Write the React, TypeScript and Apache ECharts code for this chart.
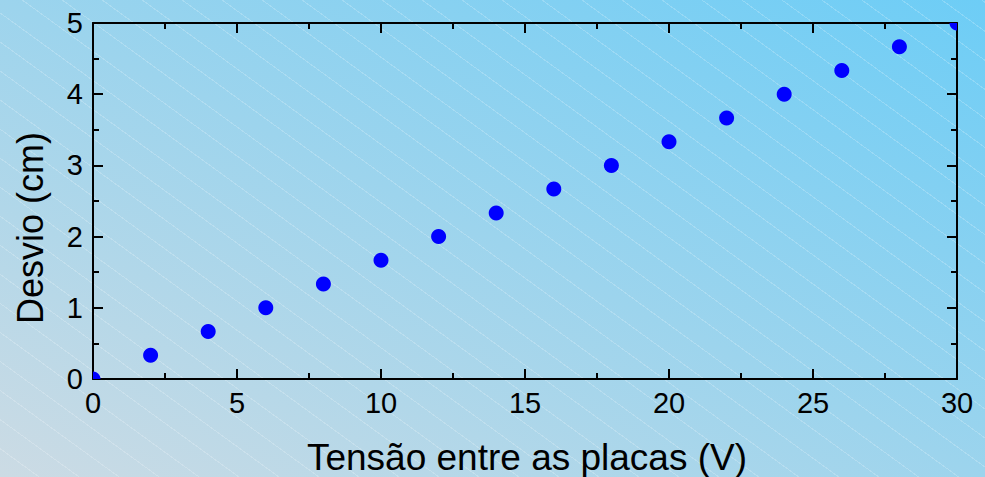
import React, { useEffect, useRef } from "react";
import * as echarts from "echarts";

const voltage = [0, 2, 4, 6, 8, 10, 12, 14, 16, 18, 20, 22, 24, 26, 28, 30];
const deflection = [0, 0.333, 0.667, 1.0, 1.333, 1.667, 2.0, 2.333, 2.667, 3.0, 3.333, 3.667, 4.0, 4.333, 4.667, 5.0];
const xTitle = "Tensão entre as placas (V)";
const yTitle = "Desvio (cm)";

const FONT = "'Liberation Sans', Arial, sans-serif";

export default function App() {
  const ref = useRef<HTMLDivElement>(null);
  useEffect(() => {
    if (!ref.current) return;
    const chart = echarts.init(ref.current, undefined, { renderer: "svg" });
    const axisCommon = {
      axisLine: { show: true, onZero: false, lineStyle: { color: "#000", width: 2 } },
      axisTick: { show: true, inside: true, length: 10, lineStyle: { color: "#000", width: 2 } },
      minorTick: { show: true, splitNumber: 2, length: 6, lineStyle: { color: "#000", width: 2 } },
      splitLine: { show: false },
    };
    chart.setOption({
      animation: false,
      backgroundColor: "transparent",
      grid: { left: 93, right: 28, top: 23, bottom: 98, containLabel: false },
      xAxis: [
        {
          type: "value", position: "bottom", min: 0, max: 30, interval: 5,
          ...axisCommon,
          axisLabel: { color: "#000", fontSize: 29, fontFamily: FONT, margin: 9 },
        },
        {
          type: "value", position: "top", min: 0, max: 30, interval: 5,
          ...axisCommon,
          axisLabel: { show: false },
        },
      ],
      yAxis: [
        {
          type: "value", position: "left", min: 0, max: 5, interval: 1,
          ...axisCommon,
          axisLabel: { color: "#000", fontSize: 29, fontFamily: FONT, margin: 10 },
        },
        {
          type: "value", position: "right", min: 0, max: 5, interval: 1,
          ...axisCommon,
          axisLabel: { show: false },
        },
      ],
      graphic: [
        {
          type: "text", x: 527, y: 457,
          style: { text: xTitle, fontSize: 37, fontFamily: FONT, fill: "#000", align: "center", verticalAlign: "middle" },
        },
        {
          type: "text", x: 30, y: 228, rotation: Math.PI / 2,
          style: { text: yTitle, fontSize: 36, fontFamily: FONT, fill: "#000", align: "center", verticalAlign: "middle" },
        },
      ],
      series: [
        {
          type: "custom",
          xAxisIndex: 0,
          yAxisIndex: 0,
          clip: true,
          data: voltage.map((v, i) => [v, deflection[i]]),
          encode: { x: 0, y: 1 },
          renderItem: (params: any, api: any) => {
            const p = api.coord([api.value(0), api.value(1)]);
            return {
              type: "circle",
              shape: { cx: p[0], cy: p[1], r: 7.5 },
              style: { fill: "#0000ff" },
            };
          },
        },
      ],
    });
    return () => chart.dispose();
  }, []);
  return (
    <div
      style={{
        position: "fixed", left: 0, top: 0, width: 985, height: 477,
        background:
          "repeating-linear-gradient(36deg, rgba(255,255,255,0) 0px, rgba(255,255,255,0) 22.5px, rgba(255,255,255,0.2) 22.5px, rgba(255,255,255,0.2) 23.5px), linear-gradient(to top right, #ccdbe4, #6dcdf6)",
      }}
    >
      <div ref={ref} style={{ width: 985, height: 477 }} />
    </div>
  );
}
